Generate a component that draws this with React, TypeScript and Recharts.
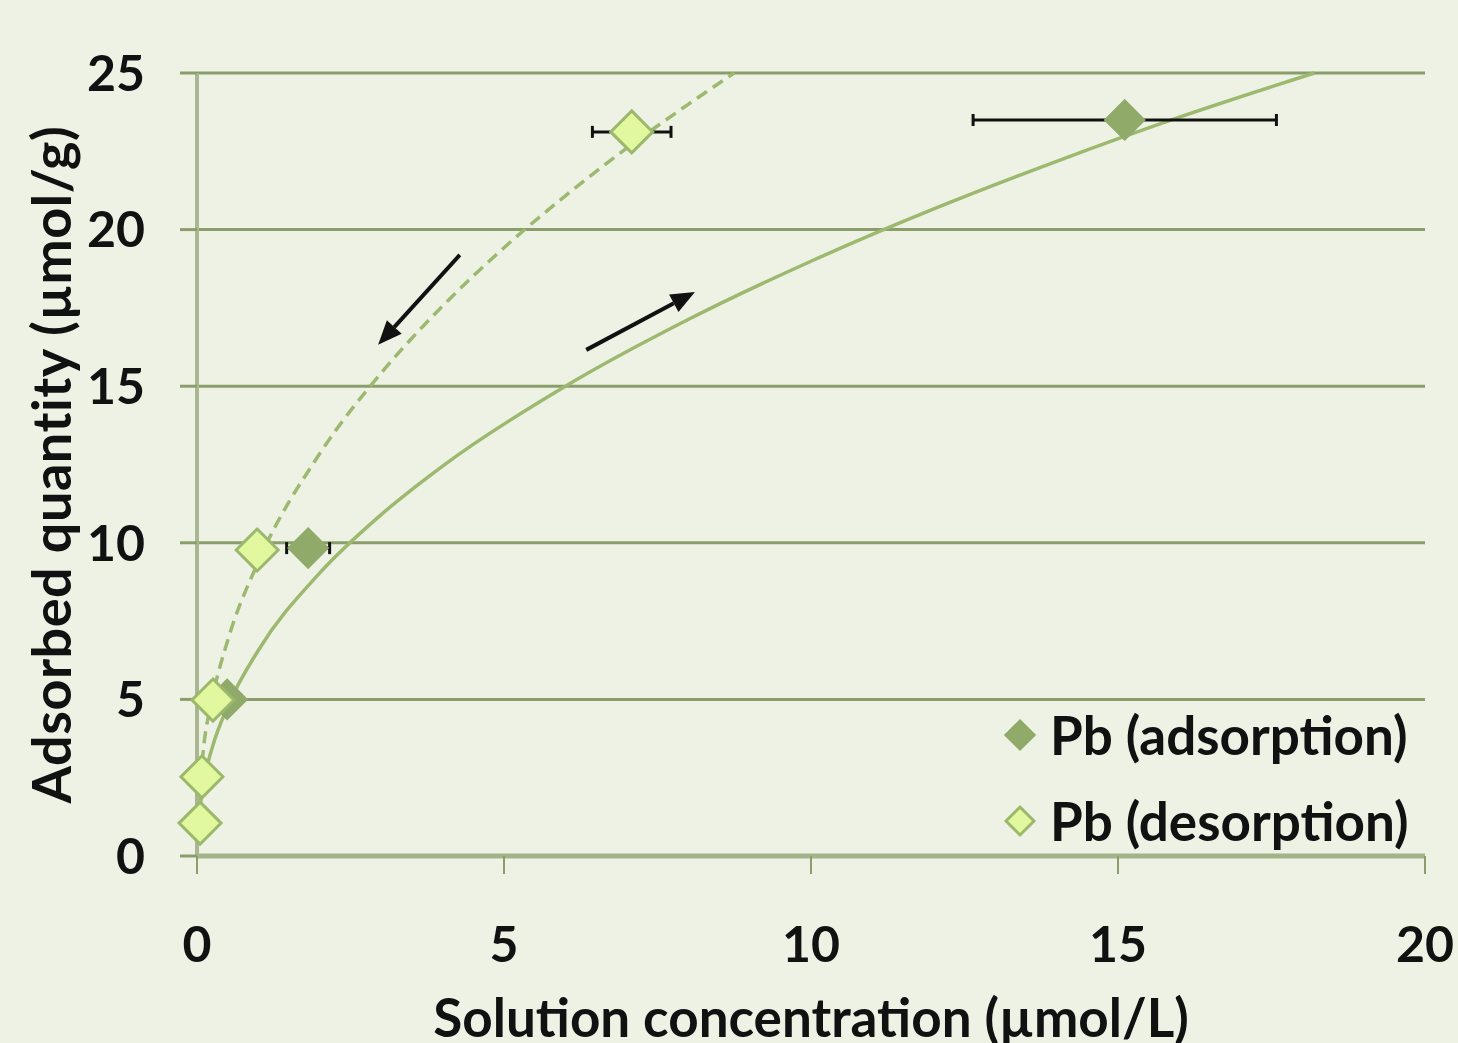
import React from 'react';
import {
  ComposedChart,
  Scatter,
  Line,
  XAxis,
  YAxis,
  CartesianGrid,
  ErrorBar,
  ReferenceLine,
} from 'recharts';

// measured points (x = solution conc., y = adsorbed qty, err = x error)
const adsorption = [
  { x: 0.49, y: 5.0, err: null },
  { x: 1.81, y: 9.83, err: 0.35 },
  { x: 15.11, y: 23.5, err: 2.47 },
];
const desorption = [
  { x: 0.05, y: 1.05, err: null },
  { x: 0.08, y: 2.53, err: null },
  { x: 0.26, y: 4.98, err: null },
  { x: 0.98, y: 9.77, err: null },
  { x: 7.08, y: 23.12, err: 0.64 },
];

// trend curves
const adsorptionFit = [
  { x: 0.02, y: 1.08 }, { x: 0.1, y: 2.27 }, { x: 0.25, y: 3.47 }, { x: 0.5, y: 4.77 },
  { x: 1, y: 6.57 }, { x: 2, y: 9.04 }, { x: 3, y: 10.9 }, { x: 4, y: 12.45 },
  { x: 6, y: 15.0 }, { x: 8, y: 17.13 }, { x: 10, y: 18.99 }, { x: 12, y: 20.66 },
  { x: 14, y: 22.18 }, { x: 16, y: 23.59 }, { x: 18.2, y: 25.0 },
];
const desorptionFit = [
  { x: 0.01, y: 1.18 }, { x: 0.1, y: 3.33 }, { x: 0.25, y: 5.03 }, { x: 0.5, y: 6.88 },
  { x: 1, y: 9.4 }, { x: 2, y: 12.85 }, { x: 3, y: 15.42 }, { x: 4, y: 17.56 },
  { x: 5, y: 19.42 }, { x: 6, y: 21.08 }, { x: 7, y: 22.6 }, { x: 8, y: 24.0 },
  { x: 8.75, y: 25.0 },
];

const xTicks = [0, 5, 10, 15, 20];
const yTicks = [0, 5, 10, 15, 20, 25];

const arrowDesorb = [{ x: 4.28, y: 19.19 }, { x: 2.95, y: 16.32 }];
const arrowAdsorb = [{ x: 6.34, y: 16.16 }, { x: 8.11, y: 18.01 }];

const BG = '#EEF2E5';
const GRID = '#8C9D6C';
const DARK = '#8FAA69';
const LIGHT_FILL = '#E2F89E';
const LIGHT_STROKE = '#9BB86C';
const CURVE = '#9DB970';
const FONT = 'Lato, "Open Sans", sans-serif';

const diamond = (fill: string, stroke: string, r: number) => (props: any) => {
  const { cx, cy } = props;
  if (cx == null || cy == null) return <g />;
  return (
    <polygon
      points={`${cx},${cy - r} ${cx + r},${cy} ${cx},${cy + r} ${cx - r},${cy}`}
      fill={fill}
      stroke={stroke}
      strokeWidth={3}
    />
  );
};

const noShape = () => <g />;

const arrowShape = (props: any) => {
  const { x1, y1, x2, y2 } = props;
  const ang = Math.atan2(y2 - y1, x2 - x1);
  const len = 24;
  const hw = 10;
  const bx = x2 - len * Math.cos(ang);
  const by = y2 - len * Math.sin(ang);
  const px = -Math.sin(ang) * hw;
  const py = Math.cos(ang) * hw;
  return (
    <g>
      <line x1={x1} y1={y1} x2={bx} y2={by} stroke="#111" strokeWidth={4} />
      <polygon points={`${x2},${y2} ${bx + px},${by + py} ${bx - px},${by - py}`} fill="#111" />
    </g>
  );
};

const legendItems = [
  { name: 'Pb (adsorption)', fill: DARK, stroke: DARK },
  { name: 'Pb (desorption)', fill: LIGHT_FILL, stroke: LIGHT_STROKE },
];

const YLabel = (props: any) => {
  const { viewBox } = props;
  const cy = viewBox.y + viewBox.height / 2;
  return (
    <text
      x={50}
      y={cy}
      transform={`rotate(-90, 50, ${cy})`}
      textAnchor="middle"
      dominantBaseline="central"
      fontFamily={FONT}
      fontWeight={700}
      fontSize={54}
      letterSpacing={0.5}
      fill="#111"
    >
      Adsorbed quantity (µmol/g)
    </text>
  );
};

export default function App() {
  const tickStyle = { fill: '#111', fontSize: 50, fontWeight: 700, fontFamily: FONT };
  return (
    <div style={{ position: 'absolute', left: 0, top: 0, width: 1458, height: 1043, background: BG, overflow: 'hidden' }}>
      <ComposedChart
        width={1458}
        height={1043}
        margin={{ top: 73, right: 33, bottom: 0, left: 0 }}
        style={{ fontFamily: FONT }}
      >
        <CartesianGrid vertical={false} stroke={GRID} strokeWidth={3} />
        <XAxis
          dataKey="x"
          type="number"
          domain={[0, 20]}
          ticks={xTicks}
          height={187}
          tickSize={18}
          tickMargin={52}
          tick={tickStyle}
          axisLine={{ stroke: '#A4B38A', strokeWidth: 5 }}
          tickLine={{ stroke: GRID, strokeWidth: 2 }}
          label={{
            value: 'Solution concentration (µmol/L)',
            position: 'insideBottom',
            offset: 6,
            style: { fill: '#111', fontSize: 53, fontWeight: 700, fontFamily: FONT },
          }}
        />
        <YAxis
          dataKey="y"
          type="number"
          domain={[0, 25]}
          ticks={yTicks}
          width={197}
          tickSize={17}
          tickMargin={35}
          tick={tickStyle}
          axisLine={{ stroke: '#A8B792', strokeWidth: 4 }}
          tickLine={{ stroke: GRID, strokeWidth: 3 }}
          label={<YLabel />}
        />
        <Line
          data={desorptionFit}
          dataKey="y"
          type="monotone"
          dot={false}
          stroke={CURVE}
          strokeWidth={3.5}
          strokeDasharray="12 7"
          isAnimationActive={false}
        />
        <Line
          data={adsorptionFit}
          dataKey="y"
          type="monotone"
          dot={false}
          stroke={CURVE}
          strokeWidth={3.5}
          isAnimationActive={false}
        />
        {/* error bars first so the diamonds sit on top */}
        <Scatter data={adsorption} dataKey="y" shape={noShape} isAnimationActive={false}>
          <ErrorBar dataKey="err" direction="x" width={6} stroke="#111" strokeWidth={3} />
        </Scatter>
        <Scatter data={desorption} dataKey="y" shape={noShape} isAnimationActive={false}>
          <ErrorBar dataKey="err" direction="x" width={6} stroke="#111" strokeWidth={3} />
        </Scatter>
        <Scatter
          name="Pb (adsorption)"
          data={adsorption}
          dataKey="y"
          shape={diamond(DARK, DARK, 19)}
          isAnimationActive={false}
        />
        <Scatter
          name="Pb (desorption)"
          data={desorption}
          dataKey="y"
          shape={diamond(LIGHT_FILL, LIGHT_STROKE, 21)}
          isAnimationActive={false}
        />
        <ReferenceLine segment={arrowDesorb} ifOverflow="visible" shape={arrowShape} />
        <ReferenceLine segment={arrowAdsorb} ifOverflow="visible" shape={arrowShape} />
      </ComposedChart>
      <div
        style={{
          position: 'absolute',
          left: 1000,
          top: 692,
          fontFamily: FONT,
          fontWeight: 700,
          fontSize: 53,
          color: '#111',
          lineHeight: '86px',
        }}
      >
        {legendItems.map((it) => (
          <div key={it.name} style={{ display: 'flex', alignItems: 'center' }}>
            <svg width={40} height={40} style={{ marginRight: 10 }}>
              <polygon points="20,6 34,20 20,34 6,20" fill={it.fill} stroke={it.stroke} strokeWidth={3} />
            </svg>
            <span>{it.name}</span>
          </div>
        ))}
      </div>
    </div>
  );
}
